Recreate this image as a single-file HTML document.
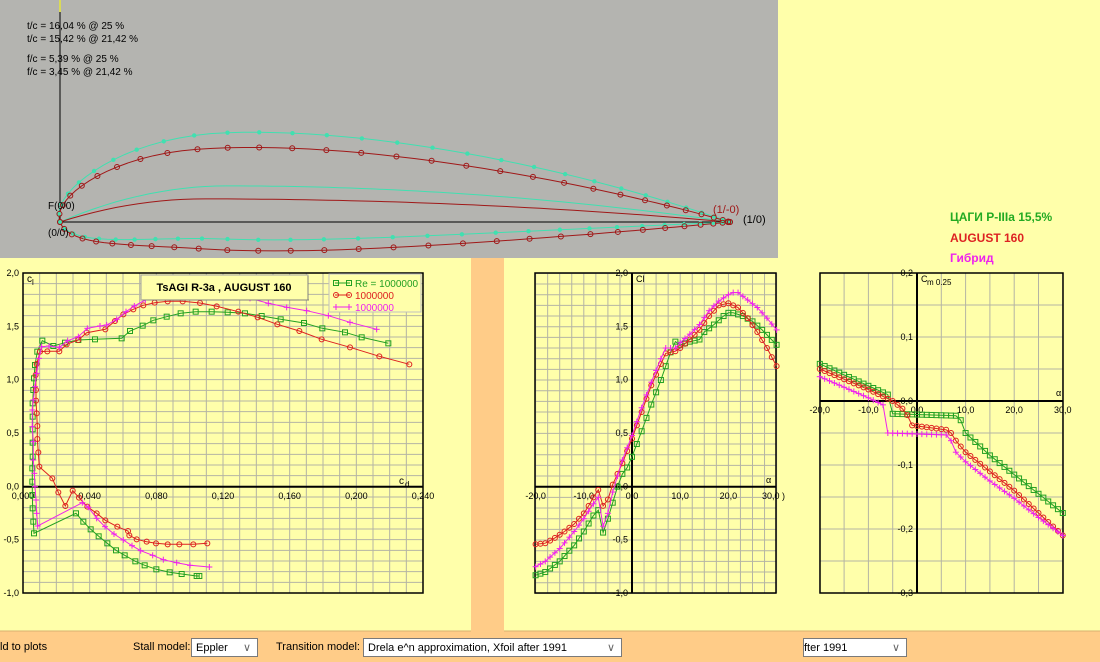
<!DOCTYPE html>
<html><head><meta charset="utf-8">
<style>
html,body{margin:0;padding:0;width:1100px;height:662px;overflow:hidden;background:#FFFFAA;font-family:"Liberation Sans",sans-serif}
svg{position:absolute;left:0;top:0}
.sel{position:absolute;top:638px;height:19px;background:#fff;border:1px solid #7a7a7a;font-size:11px;line-height:19px;padding-left:4px;box-sizing:border-box}
.sel span{position:absolute;right:6px;top:0;color:#666}
.lab{position:absolute;top:641px;font-size:11px;color:#000}
</style></head><body>
<svg id="s" width="1100" height="662" xmlns="http://www.w3.org/2000/svg" font-family="Liberation Sans, sans-serif"></svg>
<div class="lab" style="left:0">ld to plots</div>
<div class="lab" style="left:133px">Stall model:</div>
<div class="sel" style="left:191px;width:67px">Eppler<span>&#8744;</span></div>
<div class="lab" style="left:276px">Transition model:</div>
<div class="sel" style="left:363px;width:259px">Drela e^n approximation, Xfoil after 1991<span>&#8744;</span></div>
<div class="sel" style="left:803px;width:104px;padding-left:0">fter 1991<span>&#8744;</span></div>
<script>
var S=document.getElementById('s'),h='';
function R(x,y,w,hh,f,st){h+='<rect x="'+x+'" y="'+y+'" width="'+w+'" height="'+hh+'" fill="'+f+'"'+(st?' stroke="'+st+'"':'')+'/>';}
function L(x1,y1,x2,y2,c,w){h+='<line x1="'+x1+'" y1="'+y1+'" x2="'+x2+'" y2="'+y2+'" stroke="'+c+'" stroke-width="'+(w||1)+'"/>';}
function T(x,y,t,o){o=o||{};h+='<text x="'+x+'" y="'+y+'" font-size="'+(o.s||9)+'" fill="'+(o.c||'#000')+'"'+(o.a?' text-anchor="'+o.a+'"':'')+(o.b?' font-weight="bold"':'')+'>'+t+'</text>';}
function PL(p,c){h+='<polyline fill="none" stroke="'+c+'" stroke-width="1" points="'+p.map(function(q){return q[0].toFixed(1)+','+q[1].toFixed(1)}).join(' ')+'"/>';}
function M(p,c,k){p.forEach(function(q){var x=q[0],y=q[1];
 if(k=='sq')h+='<rect x="'+(x-2.5)+'" y="'+(y-2.5)+'" width="5" height="5" fill="none" stroke="'+c+'"/>';
 else if(k=='ci')h+='<circle cx="'+x+'" cy="'+y+'" r="2.5" fill="none" stroke="'+c+'"/>';
 else if(k=='pl'){L(x-3,y,x+3,y,c);L(x,y-3,x,y+3,c);}
 else if(k=='di')h+='<circle cx="'+x+'" cy="'+y+'" r="2.2" fill="'+c+'"/>';});}
R(0,0,1100,662,'#FFFFAA');
R(0,0,778,258,'#B4B4B0');
R(471,258,33,373,'#FFCC88');
R(0,631,1100,31,'#FFCC88');
L(0,631,471,631,'#d8b070');L(504,631,1100,631,'#d8b070');
function naca(m,p,t,up){var pts=[];for(var i=0;i<=60;i++){var b=Math.PI*i/60,s=(1-Math.cos(b))/2;
 var yt=5*t*(0.2969*Math.sqrt(s)-0.126*s-0.3516*s*s+0.2843*s*s*s-0.1036*s*s*s*s);
 var yc,dy;if(s<p){yc=m/(p*p)*(2*p*s-s*s);dy=2*m/(p*p)*(p-s);}else{yc=m/((1-p)*(1-p))*(1-2*p+2*p*s-s*s);dy=2*m/((1-p)*(1-p))*(p-s);}
 var th=Math.atan(dy),x=s-(up?1:-1)*yt*Math.sin(th),y=yc+(up?1:-1)*yt*Math.cos(th);
 pts.push([60+670*x,222-670*y]);}return pts;}
function camb(m,p){var pts=[];for(var i=0;i<=60;i++){var s=i/60,yc=s<p?m/(p*p)*(2*p*s-s*s):m/((1-p)*(1-p))*(1-2*p+2*p*s-s*s);pts.push([60+670*s,222-670*yc]);}return pts;}
L(60,0,60,222,'#000');L(60,222,730,222,'#000');L(60,0,60,12,'#ffff00');
var cu=naca(0.0539,0.25,0.1604,1),cl=naca(0.0539,0.25,0.1604,0),ru=naca(0.0345,0.2142,0.1542,1),rl=naca(0.0345,0.2142,0.1542,0);
PL(camb(0.0539,0.25),'#40E0B0');PL(camb(0.0345,0.2142),'#A01818');
PL(cu,'#40E0B0');PL(cl,'#40E0B0');PL(ru,'#A01818');PL(rl,'#A01818');
function every(a,n){return a.filter(function(_,i){return i%n==0});}
M(every(cu,2),'#40E0B0','di');M(every(cl,2),'#40E0B0','di');M(every(ru,2),'#A01818','ci');M(every(rl,2),'#A01818','ci');
T(27,29,'t/c = 16,04 % @ 25 %',{s:10});T(27,42,'t/c = 15,42 % @ 21,42 %',{s:10});
T(27,62,'f/c = 5,39 % @ 25 %',{s:10});T(27,75,'f/c = 3,45 % @ 21,42 %',{s:10});
T(48,209,'F(0/0)',{s:10});T(48,236,'(0/0)',{s:10});T(713,213,'(1/-0)',{s:11,c:'#A01818'});T(743,223,'(1/0)',{s:11});
T(950,221,'ЦАГИ Р-IIIa 15,5%',{s:12,b:1,c:'#22AA22'});T(950,242,'AUGUST 160',{s:12,b:1,c:'#DD2222'});T(950,262,'Гибрид',{s:12,b:1,c:'#EE22EE'});
var G='#B4B4A4';
(function(){var x0=23,x1=423,y0=273,y1=593;
 for(var i=0;i<=24;i++){var x=x0+i*(x1-x0)/24;L(x,y0,x,y1,G);}
 for(var j=0;j<=30;j++){var y=y0+j*(y1-y0)/30;L(x0,y,x1,y,G);}
 h+='<rect x="23" y="273" width="400" height="320" fill="none" stroke="#000" stroke-width="1.5"/>';
 L(x0,486.7,x1,486.7,'#000',2);
 ['2,0','1,5','1,0','0,5','0,0','-0,5','-1,0'].forEach(function(t,i){T(19,y0+i*53.33+3,t,{a:'end'});});
 ['0,000','0,040','0,080','0,120','0,160','0,200','0,240'].forEach(function(t,i){T(x0+i*66.67,499,t,{a:'middle'});});
 T(27,282,'c',{s:10});T(32,285,'l',{s:8});T(399,484,'c',{s:10});T(405,487,'d',{s:8});
})();
function Z(a){return a.map(function(q){return [q[0]/3,260+q[1]/3];});}
var gP=Z([[598,948],[590,948],[545,942],[509,937],[469,928],[434,916],[406,904],[374,886],[348,871],[322,850],[296,829],[272,808],[250,785],[228,760],[102,820],[100,785],[98,745],[97,705],[97,665],[97,625],[98,590],[98,548],[98,508],[98,470],[98,430],[100,390],[102,355],[105,315],[112,275],[127,242],[160,258],[195,248],[235,240],[285,238],[365,235],[390,213],[428,197],[460,181],[500,170],[542,160],[587,155],[635,155],[683,157],[735,160],[785,168],[842,178],[912,189],[967,205],[1035,217],[1085,232],[1165,250]]);
var rP=Z([[622,850],[580,853],[538,853],[503,853],[468,850],[440,845],[410,838],[388,826],[384,813],[352,800],[316,781],[290,760],[262,740],[237,713],[218,692],[196,738],[175,697],[157,655],[118,620],[115,577],[112,537],[112,498],[110,460],[108,422],[108,390],[107,345],[110,312],[120,275],[142,274],[178,274],[200,253],[235,240],[260,218],[316,208],[345,183],[370,163],[400,148],[430,136],[464,128],[503,124],[548,124],[600,129],[650,139],[715,155],[773,172],[832,193],[898,213],[965,238],[1050,262],[1138,289],[1228,313]]);
var mP=Z([[628,921],[570,916],[530,908],[490,899],[458,886],[422,872],[396,857],[370,840],[342,822],[315,800],[290,775],[265,742],[247,728],[113,798],[110,760],[108,720],[105,680],[103,640],[100,600],[100,545],[97,500],[97,450],[100,420],[105,380],[110,340],[117,295],[125,260],[147,258],[178,262],[203,242],[235,230],[262,205],[300,198],[320,195],[350,178],[378,155],[403,138],[436,120],[466,105],[495,98],[560,90],[640,88],[700,105],[750,115],[805,130],[860,142],[920,152],[985,167],[1050,187],[1130,208]]);
var GC='#22A022',RC='#DD2020',MC='#EE22EE';
PL(gP,GC);M(gP,GC,'sq');PL(rP,RC);M(rP,RC,'ci');PL(mP,MC);M(mP,MC,'pl');
R(141,275,167,25,'#FFFFAA','#A0A0A0');L(142,300,309,300,'#808080');L(308,276,308,300,'#808080');
T(224,291,'TsAGI R-3a , AUGUST 160',{s:11,b:1,a:'middle'});
R(329,274,92,38,'#FFFFAA','#C0C0C0');
L(335,283,350,283,GC);M([[336,283],[349,283]],GC,'sq');T(355,287,'Re = 1000000',{s:10,c:GC});
L(335,295,350,295,RC);M([[336,295],[349,295]],RC,'ci');T(355,299,'1000000',{s:10,c:RC});
L(335,307,350,307,MC);M([[336,307],[349,307]],MC,'pl');T(355,311,'1000000',{s:10,c:MC});
function ax(a){return 632+a*4.82;} function cy(c){return 486.7-c*106.67;}
(function(){for(var a=-20;a<=30;a+=2.5)L(ax(a),273,ax(a),593,G);for(var c=-1;c<=2.001;c+=0.1)L(535,cy(c),776,cy(c),G);
 h+='<rect x="535" y="273" width="241" height="320" fill="none" stroke="#000" stroke-width="1.5"/>';
 L(632,273,632,593,'#000',2);L(535,486.7,776,486.7,'#000',2);
 ['2,0','1,5','1,0','0,5','0,0','-0,5','-1,0'].forEach(function(t,i){T(628,276+i*53.33,t,{a:'end'});});
 ['-20,0','-10,0','0,0','10,0','20,0'].forEach(function(t,i){T(ax(-20+10*i),499,t,{a:'middle'});});T(762,499,'30,0 )');
 T(636,282,'Cl',{s:9});T(766,483,'α',{s:9});})();
function interp(d,st){var o=[];for(var i=0;i<d.length-1;i++){var a0=d[i][0],a1=d[i+1][0];for(var a=a0;a<a1-1e-6;a+=st)o.push([a,d[i][1]+(d[i+1][1]-d[i][1])*(a-a0)/(a1-a0)]);}o.push(d[d.length-1]);return o;}
var gA=[[-20,-.83],[-18,-.80],[-15,-.70],[-12,-.55],[-10,-.42],[-8,-.27],[-7,-.22],[-6,-.43],[-5,-.30],[-4,-.15],[-3,0],[-2,.12],[-1,.18],[0,.28],[2,.52],[4,.77],[6,1.0],[7,1.13],[8,1.26],[9,1.36],[10,1.33],[12,1.36],[14,1.38],[15,1.45],[17,1.52],[19,1.6],[20,1.63],[21,1.63],[23,1.6],[25,1.55],[27,1.47],[30,1.33]];
var rA=[[-20,-.54],[-18,-.53],[-16,-.48],[-14,-.42],[-12,-.35],[-10,-.25],[-9,-.18],[-8,-.1],[-7,-.03],[-6,-.18],[-5,-.12],[-4,.02],[-3,.12],[-2,.22],[0,.45],[2,.7],[4,.95],[6,1.15],[7,1.25],[9,1.27],[10,1.3],[12,1.38],[14,1.47],[16,1.6],[18,1.7],[20,1.72],[22,1.68],[24,1.58],[26,1.45],[28,1.3],[30,1.13]];
var mA=[[-20,-.75],[-18,-.7],[-15,-.58],[-12,-.42],[-10,-.3],[-8,-.16],[-7,-.1],[-6,-.37],[-5,-.25],[-4,-.05],[-3,.1],[-2,.25],[0,.48],[2,.74],[4,.98],[6,1.2],[7,1.3],[9,1.3],[10,1.35],[12,1.43],[14,1.52],[16,1.65],[18,1.74],[20,1.8],[21,1.82],[22,1.82],[24,1.75],[26,1.68],[28,1.58],[30,1.47]];
[[gA,GC,'sq'],[rA,RC,'ci'],[mA,MC,'pl']].forEach(function(z){var p=interp(z[0],1).map(function(q){return [ax(q[0]),cy(q[1])]});PL(p,z[1]);M(p,z[1],z[2]);});
function mx(a){return 917+a*4.86;} function my(c){return 401-c*640;}
(function(){for(var a=-20;a<=30;a+=5)L(mx(a),273,mx(a),593,G);for(var c=-0.3;c<=0.2001;c+=0.05)L(820,my(c),1063,my(c),G);
 h+='<rect x="820" y="273" width="243" height="320" fill="none" stroke="#000" stroke-width="1.5"/>';
 L(917,273,917,593,'#000',2);L(820,401,1063,401,'#000',2);
 ['0,2','0,1','0,0','-0,1','-0,2','-0,3'].forEach(function(t,i){T(913,276+i*64,t,{a:'end'});});
 ['-20,0','-10,0','0,0','10,0','20,0','30,0'].forEach(function(t,i){T(mx(-20+10*i),413,t,{a:'middle'});});
 T(921,282,'C',{s:9});T(927,285,'m 0.25',{s:8});T(1056,396,'α',{s:9});})();
var gM=[[-20,.058],[-6,.01],[-5,-.02],[8,-.023],[9,-.03],[10,-.05],[15,-.085],[20,-.115],[25,-.145],[30,-.175]];
var rM=[[-20,.05],[-10,.018],[-5,0],[-3,-.012],[-2,-.022],[-1,-.038],[6,-.045],[7,-.05],[8,-.062],[10,-.08],[15,-.11],[20,-.14],[25,-.175],[30,-.21]];
var mM=[[-20,.038],[-10,.005],[-7,-.006],[-6,-.05],[6,-.053],[7,-.062],[8,-.08],[10,-.095],[15,-.125],[20,-.152],[25,-.182],[30,-.21]];
[[gM,GC,'sq'],[rM,RC,'ci'],[mM,MC,'pl']].forEach(function(z){var p=interp(z[0],1).map(function(q){return [mx(q[0]),my(q[1])]});PL(p,z[1]);M(p,z[1],z[2]);});
S.innerHTML=h;
</script>
</body></html>
